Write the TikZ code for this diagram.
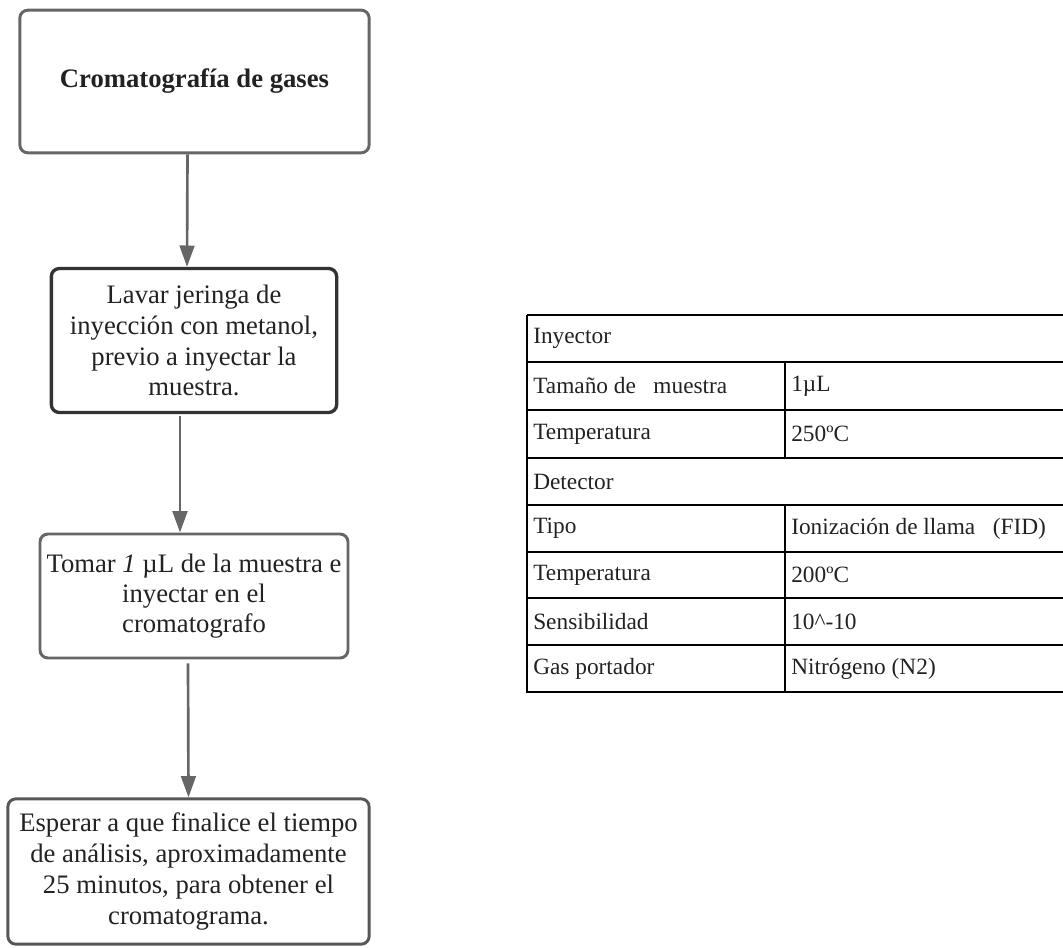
\documentclass[tikz,border=0pt]{standalone}
\usepackage{fontspec}
\setmainfont{Liberation Serif}
\usetikzlibrary{arrows.meta}
\definecolor{boxgray}{HTML}{666666}
\definecolor{boxdark}{HTML}{333333}
\definecolor{txt}{HTML}{222222}
\tikzset{
  flowbox/.style={draw=boxgray, line width=2.2pt, rounded corners=6pt, fill=white,
    align=center, text=txt, font=\fontsize{20}{23.2}\selectfont, inner sep=0pt},
  flowarrow/.style={draw=boxgray, line width=2pt, -{Triangle[length=16pt,width=11pt]}},
  tline/.style={draw=black, line width=0.8pt},
  tcell/.style={anchor=west, text=txt, font=\fontsize{17.5}{20}\selectfont, inner sep=0pt}
}
\begin{document}
\begin{tikzpicture}[x=0.75pt,y=-0.75pt]
\useasboundingbox (0,0) rectangle (1063,947);
% flow boxes
\node[flowbox, minimum width=262pt, minimum height=107pt, font=\bfseries\fontsize{20}{23}\selectfont] (b1) at (194.5,81.5) {Cromatografía de gases};
\node[flowbox, draw=boxdark, line width=2.5pt, minimum width=214pt, minimum height=108pt] (b2) at (194,340.5)
  {Lavar jeringa de\\inyección con metanol,\\previo a inyectar la\\muestra.};
\node[flowbox, minimum width=231pt, minimum height=93pt, font=\fontsize{20}{22.5}\selectfont] (b3) at (194,596)
  {Tomar \textit{1} µL de la muestra e\\inyectar en el\\cromatografo};
\node[flowbox, draw=boxgray!85!black, minimum width=271pt, minimum height=109pt] (b4) at (188.5,871.5)
  {Esperar a que finalice el tiempo\\de análisis, aproximadamente\\25 minutos, para obtener el\\cromatograma.};
% arrows
\draw[flowarrow] ([xshift=-5.25pt]b1.south) -- ([xshift=-5.25pt]b2.north);
\draw[flowarrow] ([xshift=-10.5pt,yshift=-1.5pt]b2.south) -- ([xshift=-10.5pt]b3.north);
\draw[flowarrow] ([xshift=-4.5pt,yshift=-3pt]b3.south) -- ([xshift=0pt]b4.north);
% table
\coordinate (tl) at (527,315);
\coordinate (tr) at (1070,315);
\coordinate (bl) at (527,692);
\coordinate (br) at (1070,692);
\draw[tline] (tl) -- (tr);
\draw[tline] (tl) -- (bl) -- (br);
\foreach \y in {362,410,458,505,552,598,645} {
  \draw[tline] (527,\y) -- (1070,\y);
}
\draw[tline] (785,362) -- (785,458);
\draw[tline] (785,505) -- (785,692);
\node[tcell] (r1) at (533,338.5) {Inyector};
\node[tcell] (r2a) at (533,386) {Tamaño de\ \ \ muestra};
\node[tcell] (r2b) at (791,386) {1µL};
\node[tcell] (r3a) at (533,434) {Temperatura};
\node[tcell] (r3b) at (791,434) {250ºC};
\node[tcell] (r4) at (533,481.5) {Detector};
\node[tcell] (r5a) at (533,528.5) {Tipo};
\node[tcell] (r5b) at (791,528.5) {Ionización de llama\ \ \ (FID)};
\node[tcell] (r6a) at (533,575) {Temperatura};
\node[tcell] (r6b) at (791,575) {200ºC};
\node[tcell] (r7a) at (533,621.5) {Sensibilidad};
\node[tcell] (r7b) at (791,621.5) {10\^{}-10};
\node[tcell] (r8a) at (533,668.5) {Gas portador};
\node[tcell] (r8b) at (791,668.5) {Nitrógeno (N2)};
\end{tikzpicture}
\end{document}
